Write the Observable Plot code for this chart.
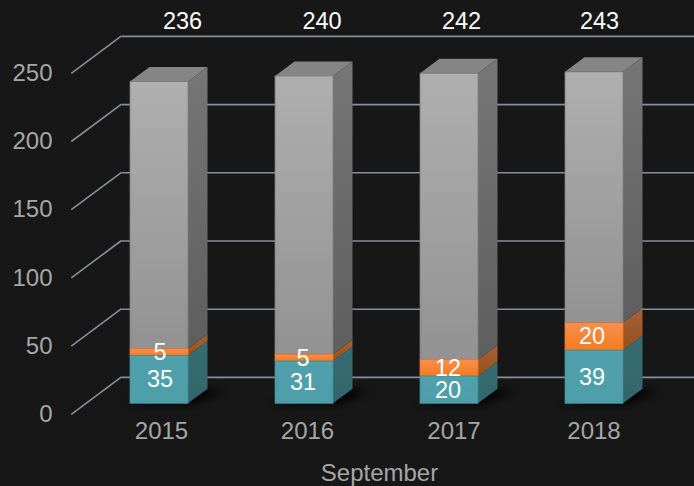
<!DOCTYPE html>
<html>
<head>
<meta charset="utf-8">
<script src="https://cdn.jsdelivr.net/npm/d3@7"></script>
<script src="https://cdn.jsdelivr.net/npm/@observablehq/plot@0.6"></script>
<style>
html,body{margin:0;padding:0;background:#171717;}
svg{display:block;}
</style>
</head>
<body>
<div id="chart"></div>
<script>
const years = ["2015", "2016", "2017", "2018"];
const tealValues = [35, 31, 20, 39];
const orangeValues = [5, 5, 12, 20];
const totals = [236, 240, 242, 243];
const yTicks = [0, 50, 100, 150, 200, 250];
const axisTitle = "September";

// Small horizontal nudges of the labels, one per year
const yearNudge = [2, 3, 4.5, -0.5];
const totalNudge = [23, 17.5, 12, 5];
const valueNudge = [0.5, -1.5, -1.5, -2.5];

const depth = {dx: 19.5, dy: -14.5};
const wall = {x: 121.5, dy: -26.4};
const floor = {x: 71.3, dy: 11};
const gridColor = "#8b8d9b";
const labelGrey = "#a6a6a6";

const rows = years.flatMap((year, i) => {
  const a = tealValues[i], b = a + orangeValues[i], c = totals[i];
  return [
    {year, i, series: "teal", y1: 0, y2: a, label: tealValues[i]},
    {year, i, series: "orange", y1: a, y2: b, label: orangeValues[i]},
    {year, i, series: "grey", y1: b, y2: c, label: null}
  ];
});

const faces = {
  teal:   {front: "gTeal",   side: "gTealS",   edge: "#3f8b93"},
  orange: {front: "gOrange", side: "gOrangeS", edge: "#e87a2c"},
  grey:   {front: "gGrey",   side: "gGreyS",   edge: "#7d7d7d"}
};

function defsMark() {
  const g = d3.create("svg:defs");
  const stops = {
    gTeal: ["#50a1ad", "#4e9ea9"],
    gTealS: ["#366d72", "#33666b"],
    gOrange: ["#f98f50", "#f57a1f"],
    gOrangeS: ["#a86038", "#93521a"],
    gGrey: ["#afafaf", "#929292"],
    gGreyS: ["#767676", "#5e5e5e"]
  };
  for (const [id, [a, b]] of Object.entries(stops)) {
    const lg = g.append("linearGradient").attr("id", id)
      .attr("x1", 0).attr("y1", 0).attr("x2", 0).attr("y2", 1);
    lg.append("stop").attr("offset", 0).attr("stop-color", a);
    lg.append("stop").attr("offset", 1).attr("stop-color", b);
  }
  const f = g.append("filter").attr("id", "blur")
    .attr("x", "-30%").attr("y", "-60%").attr("width", "160%").attr("height", "220%");
  f.append("feGaussianBlur").attr("stdDeviation", 4);
  return g.node();
}

function diagonals(index, {y}) {
  const g = d3.create("svg:g").attr("stroke", gridColor).attr("stroke-width", 1.6).attr("fill", "none");
  for (const t of yTicks) {
    g.append("line")
      .attr("x1", floor.x).attr("y1", y(t) + floor.dy)
      .attr("x2", wall.x).attr("y2", y(t) + wall.dy);
  }
  return g.node();
}

function shadows(index, {x, y}) {
  const g = d3.create("svg:g").attr("fill", "#000").attr("filter", "url(#blur)");
  for (const yr of years) {
    const l = x(yr), w = x.bandwidth(), b = y(0);
    g.append("polygon").attr("points", [
      [l - 8, b + 1], [l + w + 4, b + 1],
      [l + w + depth.dx + 18, b + depth.dy + 1], [l + w, b + depth.dy + 1]
    ].join(" "));
  }
  return g.node();
}

function sides(index, {x, y}) {
  const g = d3.create("svg:g");
  for (const r of rows) {
    const xr = x(r.year) + x.bandwidth();
    g.append("polygon")
      .attr("fill", `url(#${faces[r.series].side})`)
      .attr("points", [
        [xr, y(r.y1)], [xr + depth.dx, y(r.y1) + depth.dy],
        [xr + depth.dx, y(r.y2) + depth.dy], [xr, y(r.y2)]
      ].join(" "));
  }
  years.forEach((yr, i) => {
    const l = x(yr), w = x.bandwidth(), t = y(totals[i]);
    g.append("polygon")
      .attr("fill", "#858585")
      .attr("points", [
        [l, t], [l + w, t],
        [l + w + depth.dx, t + depth.dy], [l + depth.dx, t + depth.dy]
      ].join(" "));
  });
  return g.node();
}

const fontFamily = "'Liberation Sans', Arial, sans-serif";

const plot = Plot.plot({
  width: 694,
  height: 486,
  marginLeft: 0,
  marginRight: 0,
  marginTop: 62.3,
  marginBottom: 82.7,
  style: {background: "#171717", fontFamily, fontSize: "24px"},
  x: {domain: years, range: [86.35, 667.55], paddingInner: 0.6, paddingOuter: 0.3, axis: null},
  y: {domain: [0, 250], axis: null},
  marks: [
    defsMark,
    Plot.ruleY(yTicks, {y: d => d, stroke: gridColor, strokeWidth: 1.6, insetLeft: wall.x, dy: wall.dy}),
    diagonals,
    shadows,
    sides,
    ...["grey", "orange", "teal"].map(s =>
      Plot.barY(rows.filter(r => r.series === s), {
        x: "year", y1: "y1", y2: "y2",
        fill: `url(#${faces[s].front})`,
        stroke: faces[s].edge, strokeWidth: 0.8
      })
    ),
    Plot.axisY({
      ticks: yTicks, tickSize: 0, tickPadding: 0, label: null,
      anchor: "left", dx: 52, dy: 10.5, color: labelGrey, fontSize: 24
    }),
    ...years.map((yr, i) =>
      Plot.axisX({
        ticks: [yr], tickSize: 0, tickPadding: 18.5, label: null,
        anchor: "bottom", dx: yearNudge[i], color: labelGrey, fontSize: 24
      })
    ),
    ...years.map((yr, i) =>
      Plot.text(rows.filter(r => r.i === i && r.label != null), {
        x: "year", y: r => (r.y1 + r.y2) / 2, text: "label",
        fill: "#fff", fontSize: 23.5, dx: valueNudge[i]
      })
    ),
    ...years.map((yr, i) =>
      Plot.text([totals[i]], {
        x: () => yr, frameAnchor: "top", lineAnchor: "middle", text: d => d,
        fill: "#fff", fontSize: 23.5, dx: totalNudge[i], dy: -41.3
      })
    ),
    Plot.text([axisTitle], {
      frameAnchor: "bottom", lineAnchor: "middle", text: d => d,
      fill: labelGrey, fontSize: 24, dx: 32, dy: 70
    })
  ]
});
document.getElementById("chart").appendChild(plot);
</script>
</body>
</html>
